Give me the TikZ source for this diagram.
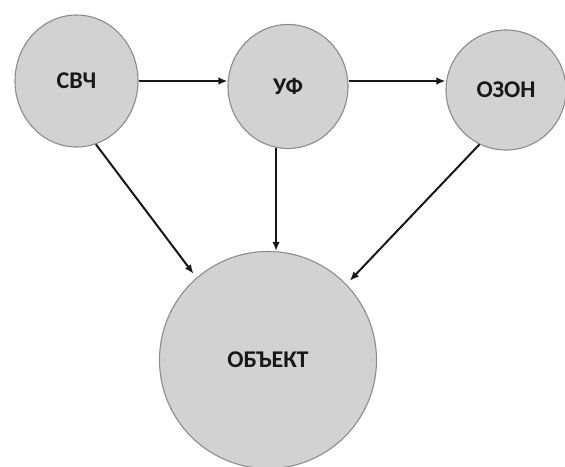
\documentclass[tikz,border=0pt]{standalone}
\usepackage{fontspec}
\setmainfont{Carlito}
\usetikzlibrary{shapes.geometric,arrows.meta}
\definecolor{bubfill}{HTML}{D2D2D2}
\definecolor{bubline}{HTML}{8C8C8C}
\definecolor{inkc}{HTML}{181818}
\tikzset{
  bub/.style={ellipse, draw=bubline, line width=1.1pt, fill=bubfill, inner sep=0pt,
    font=\fontsize{24}{27}\selectfont\bfseries, text=inkc},
  arr/.style={draw=inkc, line width=2pt, -{Latex[length=9pt,width=7.5pt]}}
}
\begin{document}
\begin{tikzpicture}[x=1pt,y=-1pt]
\path[fill=white,use as bounding box] (0,0) rectangle (565,466);
\node[bub, minimum width=123pt, minimum height=132pt] (svch) at (76.5,81) {СВЧ};
\node[bub, minimum width=120pt, minimum height=124pt] (uf) at (288,86.5) {УФ};
\node[bub, minimum width=120pt, minimum height=120pt] (ozon) at (506,90) {ОЗОН};
\node[bub, minimum width=217pt, minimum height=217pt] (obj) at (268,360) {ОБЪЕКТ};
\draw[arr] (svch.east) -- (svch.east -| uf.west);
\draw[arr] (uf.east |- svch.east) -- (svch.east -| ozon.west);
\draw[arr, shorten >=5pt] (svch.-73) -- (obj.131);
\draw[arr] (uf.-101) -- (uf.-101 |- obj.north);
\draw[arr, shorten >=5pt] (ozon.-116) -- (obj.44);
\end{tikzpicture}
\end{document}
